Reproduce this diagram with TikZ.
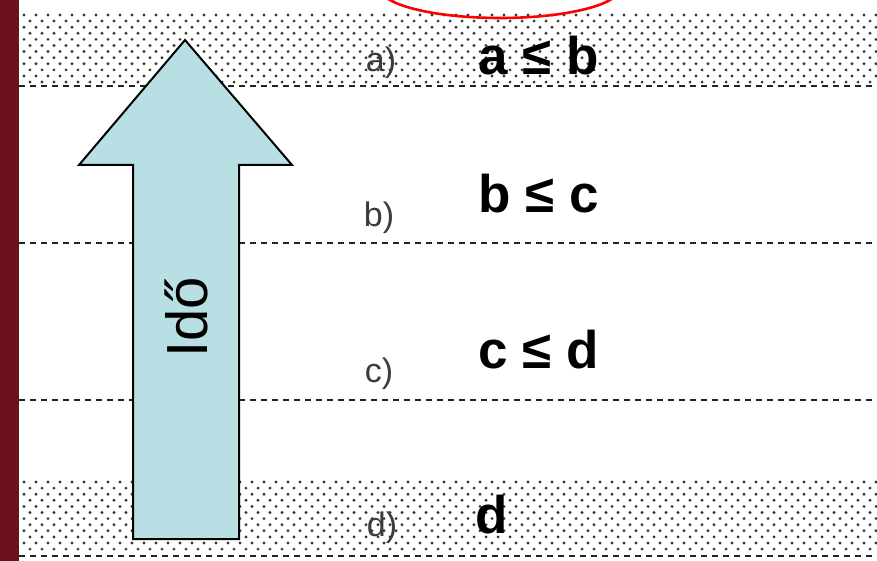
\documentclass[tikz,border=0pt]{standalone}
\usepackage{fontspec}
\setmainfont{Liberation Sans}
\usepackage{xcolor}
\usetikzlibrary{positioning}

\definecolor{stripred}{RGB}{108,18,28}
\definecolor{arrowfill}{RGB}{184,223,227}
\definecolor{dotgray}{RGB}{55,55,55}
\definecolor{dashgray}{RGB}{35,35,35}
\definecolor{markgray}{RGB}{60,60,60}

\begin{document}
\begin{tikzpicture}[
    x=1pt, y=-1pt,
    sep/.style={dashgray, line width=2.6pt, dash pattern=on 6pt off 5pt},
    dotty/.style={fill=dotgray},
    rowmark/.style={font=\fontsize{34}{34}\selectfont, color=markgray, inner sep=0pt},
    rel/.style={font=\fontsize{53}{53}\selectfont\bfseries, anchor=base west, inner sep=0pt},
  ]
  \useasboundingbox (0,0) rectangle (877,561);
  \fill[white] (0,0) rectangle (877,561);
  \fill[stripred] (0,0) rectangle (19,561);

  % halftone bands, top and bottom
  \foreach \top in {15,482}{
    \foreach \r in {0,...,11}{
      \foreach \c in {0,...,71}{
        \fill[dotty] ({24+\c*12+mod(\r,2)*6}, {\top+\r*6.1}) circle [radius=1.6pt];
      }
    }
  }

  % dashed separators
  \begin{scope}
    \clip (0,0) rectangle (877,561);
    \foreach \yy in {86,243,400,556}
      \draw[sep] (19,\yy) -- (885,\yy);
    % red ring, cut by the top edge
    \draw[red, line width=2.6pt] (500,-12) ellipse [x radius=120pt, y radius=30pt];
  \end{scope}

  % time arrow
  \draw[fill=arrowfill, line width=2pt, line join=miter]
    (185,40) -- (292,165) -- (239,165) -- (239,539) -- (133,539)
    -- (133,165) -- (79,165) -- cycle;
  \node[rotate=90, anchor=base west, inner sep=0pt,
        font=\fontsize{58}{58}\selectfont] (ido) at (207,358) {Idő};

  % row marks
  \node[rowmark] (ma) at (381,63) {a)};
  \node[rowmark] (mb) at (379,218) {b)};
  \node[rowmark] (mc) at (379,374) {c)};
  \node[rowmark] (md) at (382,528) {d)};

  % relations
  \node[rel] (ra) at (478,75) {a ≤ b};
  \node[rel] (rb) at (478,213) {b ≤ c};
  \node[rel] (rc) at (478,368) {c ≤ d};
  \node[rel] (rd) at (475,533) {d};
\end{tikzpicture}
\end{document}
